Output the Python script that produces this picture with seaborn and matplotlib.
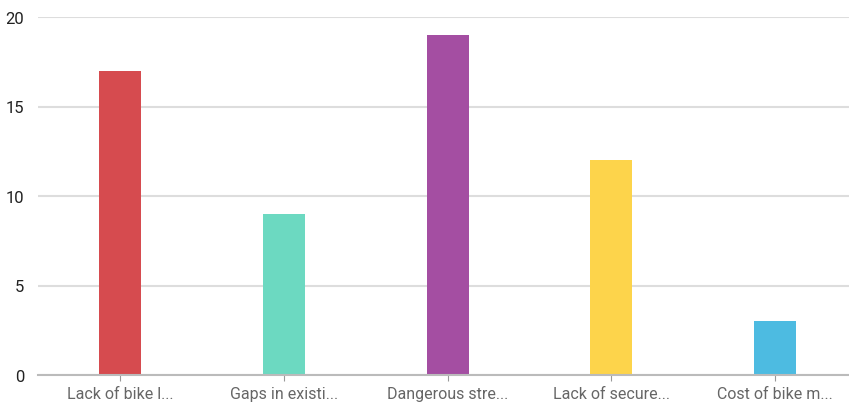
import pandas as pd
import matplotlib.pyplot as plt
import seaborn as sns

# ========== Data ==========
labels = ["Lack of bike l...", "Gaps in existi...", "Dangerous stre...",
          "Lack of secure...", "Cost of bike m..."]
counts = [17, 9, 19, 12, 3]
colors = ["#d64b4f", "#6cd9c1", "#a44ea2", "#fdd44b", "#4dbbe1"]

df = pd.DataFrame({"label": labels, "count": counts})

# ========== Plot ==========
sns.set_style("white")
plt.rcParams["font.family"] = ["Roboto", "DejaVu Sans"]

fig = plt.figure(figsize=(8.49, 4.10), dpi=100)
ax = fig.add_axes([38 / 849, 34 / 410, 811 / 849, 358 / 410])

sns.barplot(data=df, x="label", y="count", hue="label", palette=colors,
            legend=False, width=0.256, saturation=1, linewidth=0, ax=ax)

ax.set_ylim(0, 20)
ax.set_xlim(-0.5, 4.45)
ax.set_yticks([0, 5, 10, 15, 20])
ax.grid(axis="y", color="#dddddd", linewidth=1.5)
ax.set_axisbelow(True)

for s in ["top", "right", "left"]:
    ax.spines[s].set_visible(False)
ax.spines["bottom"].set_color("#bbbbbb")
ax.spines["bottom"].set_linewidth(1.5)

ax.tick_params(axis="y", length=0, labelsize=12, labelcolor="#222222", pad=10)
ax.tick_params(axis="x", length=4, color="#999999", labelsize=11.5,
               labelcolor="#666666", pad=4, bottom=True)
ax.set_xlabel("")
ax.set_ylabel("")

plt.savefig("out.png", dpi=100)
